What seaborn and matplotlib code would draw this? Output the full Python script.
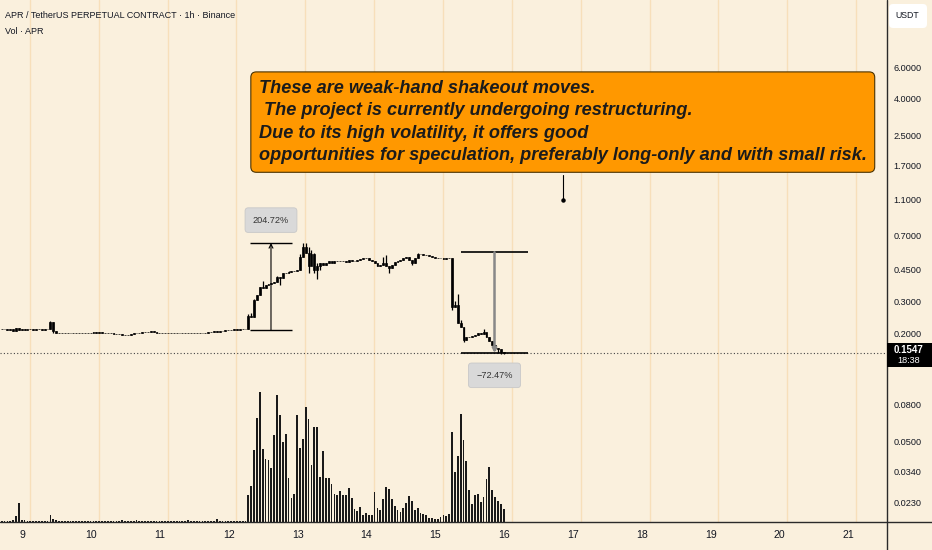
import numpy as np
import pandas as pd
import matplotlib
matplotlib.use("Agg")
import matplotlib.pyplot as plt
import seaborn as sns
from matplotlib.lines import Line2D
from matplotlib.patches import FancyBboxPatch, Rectangle
from matplotlib.transforms import IdentityTransform
from matplotlib.ticker import NullLocator

# ─────────────────────────────────────────────
# DATA (APR/USDT perp)
# ─────────────────────────────────────────────
first_candle_day = 8.70          # day-of-month of the first visible hourly candle

closes = [
    0.210, 0.210, 0.209, 0.210, 0.206, 0.213, 0.208, 0.210, 0.209, 0.210,
    0.210, 0.209, 0.210, 0.210, 0.209, 0.210, 0.210, 0.229, 0.206, 0.201,
    0.200, 0.199, 0.200, 0.200, 0.201, 0.200, 0.199, 0.200, 0.200, 0.201,
    0.201, 0.201, 0.202, 0.201, 0.202, 0.201, 0.201, 0.200, 0.199, 0.198,
    0.198, 0.197, 0.195, 0.196, 0.194, 0.197, 0.199, 0.200, 0.201, 0.202,
    0.202, 0.203, 0.204, 0.203, 0.201, 0.200, 0.199, 0.199, 0.199, 0.199,
    0.199, 0.200, 0.200, 0.201, 0.200, 0.200, 0.201, 0.200, 0.199, 0.199,
    0.200, 0.201, 0.202, 0.203, 0.204, 0.203, 0.205, 0.206, 0.207, 0.208,
    0.209, 0.210, 0.209, 0.210, 0.210, 0.210, 0.250, 0.245, 0.305, 0.325,
    0.360, 0.355, 0.370, 0.375, 0.380, 0.385, 0.410, 0.405, 0.430, 0.430,
    0.435, 0.440, 0.440, 0.450, 0.530, 0.600, 0.560, 0.470, 0.550, 0.450,
    0.470, 0.490, 0.480, 0.490, 0.500, 0.490, 0.500, 0.505, 0.500, 0.500,
    0.495, 0.510, 0.500, 0.505, 0.510, 0.515, 0.520, 0.520, 0.510, 0.500,
    0.490, 0.470, 0.475, 0.490, 0.470, 0.460, 0.480, 0.495, 0.505, 0.510,
    0.520, 0.530, 0.510, 0.490, 0.520, 0.550, 0.550, 0.545, 0.540, 0.535,
    0.530, 0.525, 0.520, 0.520, 0.515, 0.520, 0.525, 0.280, 0.285, 0.228,
    0.216, 0.183, 0.190, 0.190, 0.192, 0.195, 0.200, 0.198, 0.202, 0.190,
    0.180, 0.172, 0.165, 0.162, 0.157, 0.1547,
]

# wicks that stick out beyond the candle body (hour index -> price)
wick_highs = {17: 0.232, 86: 0.255, 87: 0.260, 88: 0.310, 91: 0.390, 96: 0.415,
              100: 0.440, 104: 0.550, 105: 0.635, 106: 0.632, 107: 0.600,
              108: 0.580, 109: 0.560, 110: 0.490, 126: 0.525, 133: 0.530,
              134: 0.545, 140: 0.525, 145: 0.560, 157: 0.525, 158: 0.300,
              159: 0.330, 160: 0.235, 168: 0.210}
wick_lows = {18: 0.200, 97: 0.370, 107: 0.430, 109: 0.430, 110: 0.400, 111: 0.450,
             135: 0.430, 143: 0.475, 157: 0.270, 161: 0.178, 172: 0.160,
             173: 0.155, 174: 0.153, 175: 0.152}

volumes = [
    1, 1, 1, 1, 2, 6, 19, 2, 2, 1.5,
    1, 1, 1, 1, 1, 1, 1, 7, 3, 2.5,
    1.5, 1, 1, 1, 1, 1, 1, 1, 1, 1,
    1, 1, 1, 1, 1, 1, 1, 1, 1, 1,
    1, 1, 2, 1, 1, 1, 1, 2, 1, 1,
    1, 1, 1, 1, 1, 1, 1, 1, 1, 1,
    1, 1, 1, 1, 1, 2, 1, 1, 1, 1,
    1, 1, 1, 1, 1, 3, 1, 1, 1, 1,
    1, 1, 1, 1, 1, 1, 27, 36, 72, 104,
    131, 73, 63, 62, 54, 87, 127, 107, 80, 88,
    44, 24, 28, 107, 74, 83, 115, 103, 57, 95,
    95, 45, 71, 44, 44, 38, 28, 27, 31, 27,
    27, 34, 24, 13, 11, 15, 7, 9, 7, 7,
    30, 14, 12, 23, 35, 33, 23, 16, 12, 10,
    14, 19, 26, 21, 12, 14, 9, 8, 7, 4,
    4, 3, 3, 5, 7, 6, 8, 90, 50, 66,
    108, 82, 61, 32, 18, 27, 28, 20, 25, 43,
    55, 32, 25, 21, 18, 13,
]

price_ticks = [6.0, 4.0, 2.5, 1.7, 1.1, 0.7, 0.45, 0.3, 0.2, 0.08, 0.05, 0.034, 0.023]
day_ticks = list(range(9, 22))

last_price = 0.1547
bar_countdown = "18:38"

# measuring tools drawn on the chart
up_days = (12.307, 12.917)
up_prices = (0.2075, 0.6323)
up_label = "204.72%"
down_days = (15.372, 16.345)
down_prices = (0.562, 0.1547)
down_label = "\u221272.47%"

note_day = 16.85
note_anchor_price = 1.1
note_tail_price = 1.51
note_center_price = 2.97
note_text = ("These are weak-hand shakeout moves.\n"
             " The project is currently undergoing restructuring.\n"
             "Due to its high volatility, it offers good\n"
             "opportunities for speculation, preferably long-only and with small risk.")

title_text = "APR / TetherUS PERPETUAL CONTRACT \u00b7 1h \u00b7 Binance"
vol_text = "Vol \u00b7 APR"

# ─────────────────────────────────────────────
# STYLE
# ─────────────────────────────────────────────
sns.set_theme(style="white")
plt.rcParams["font.family"] = ["Liberation Sans", "DejaVu Sans"]

BG = "#faf0dd"
INK = "#131722"
GRID = "#f7dfba"
W, H = 932, 550
AX_RIGHT = 886.5
AX_BOTTOM = 522

fig = plt.figure(figsize=(W / 100, H / 100), dpi=100, facecolor=BG)
ax = fig.add_axes([0, (H - AX_BOTTOM) / H, AX_RIGHT / W, AX_BOTTOM / H])
ax2 = ax.twinx()
ax.set_zorder(ax2.get_zorder() + 1)
ax.patch.set_visible(False)

hours = np.arange(len(closes))
times = first_candle_day + hours / 24
c = np.array(closes)
o = np.concatenate([[closes[0]], c[:-1]])
hi = np.maximum(o, c)
lo = np.minimum(o, c)
for k, v in wick_highs.items():
    hi[k] = v
for k, v in wick_lows.items():
    lo[k] = v

# ─────────────────────────────────────────────
# VOLUME (overlay, bottom of the pane)
# ─────────────────────────────────────────────
for d in day_ticks:
    ax2.axvline(d + 0.11, color=GRID, lw=1, zorder=0)

vol_df = pd.DataFrame({"time": times, "volume": volumes})
sns.histplot(data=vol_df, x="time", weights="volume", binwidth=1 / 24,
             binrange=(times[0] - 0.5 / 24, times[-1] + 0.5 / 24), shrink=0.62,
             color="#1a1a1a", alpha=1, linewidth=0, ax=ax2)
ax2.set_ylim(0, max(volumes) * 4.0)
ax2.set_yticks([])
ax2.set_ylabel("")
for s in ax2.spines.values():
    s.set_visible(False)

# ─────────────────────────────────────────────
# CANDLES
# ─────────────────────────────────────────────
ax.set_yscale("log")
ax.vlines(times, lo, hi, color="black", lw=0.9, zorder=3)
ax.bar(times, np.abs(c - o), bottom=np.minimum(o, c), width=0.65 / 24,
       color="black", edgecolor="black", linewidth=0.5, zorder=3)

ax.axhline(last_price, color="#444444", lw=0.8, ls=(0, (1, 2)), zorder=2)

ax.set_xlim(8.676, 21.552)
ax.set_ylim(0.01783, 14.16)

# up measure
ax.hlines(up_prices, *up_days, color="black", lw=1, zorder=4)
mid = sum(up_days) / 2
ax.annotate("", xy=(mid, up_prices[1]), xytext=(mid, up_prices[0]),
            arrowprops=dict(arrowstyle="->", color="black", lw=0.8, shrinkA=0, shrinkB=0,
                            mutation_scale=7), zorder=4)
ax.annotate(up_label, xy=(mid, up_prices[1]), xytext=(0, 16.5), textcoords="offset points",
            ha="center", va="center", fontsize=6.6, color="#333333", zorder=6,
            bbox=dict(boxstyle="round,pad=0.85,rounding_size=0.35", fc="#d9d9d9", ec="#c8c8c8", lw=0.6))

# down measure
ax.hlines(down_prices, *down_days, color="black", lw=1.2, zorder=4)
mid = sum(down_days) / 2
ax.annotate("", xy=(mid, down_prices[1]), xytext=(mid, down_prices[0]),
            arrowprops=dict(arrowstyle="->", color="#888888", lw=1.8, shrinkA=0, shrinkB=0,
                            mutation_scale=6), zorder=4)
ax.annotate(down_label, xy=(mid, down_prices[1]), xytext=(0, -16), textcoords="offset points",
            ha="center", va="center", fontsize=6.6, color="#333333", zorder=6,
            bbox=dict(boxstyle="round,pad=0.85,rounding_size=0.35", fc="#d9d9d9", ec="#c8c8c8", lw=0.6))

# callout
ax.plot([note_day, note_day], [note_anchor_price, note_tail_price], color="black", lw=0.8, zorder=4)
ax.plot([note_day], [note_anchor_price], "o", color="black", ms=2.2, zorder=4)
ax.text(note_day, note_center_price, note_text, ha="center", va="center", multialignment="left",
        fontsize=13.1, fontweight="bold", style="italic", color="#1b1b1b", linespacing=1.42, zorder=7,
        bbox=dict(boxstyle="round,pad=0.44,rounding_size=0.3", fc="#ff9800", ec="#4a3200", lw=0.8))

# ─────────────────────────────────────────────
# AXES
# ─────────────────────────────────────────────
for s in ax.spines.values():
    s.set_visible(False)
ax.yaxis.tick_right()
ax.set_yticks(price_ticks)
ax.set_yticklabels([f"{t:.4f}" for t in price_ticks])
ax.yaxis.set_minor_locator(NullLocator())
ax.set_xticks(day_ticks)
ax.set_xticklabels([str(d) for d in day_ticks])
ax.tick_params(axis="y", length=0, pad=5, labelsize=6.6, labelcolor=INK)
ax.tick_params(axis="x", length=0, pad=6, labelsize=7.6, labelcolor=INK)
ax.grid(False)
ax2.grid(False)

fig.add_artist(Line2D([AX_RIGHT / W] * 2, [0, 1], transform=fig.transFigure, color="#2a2a2a", lw=1))
fig.add_artist(Line2D([0, 1], [(H - AX_BOTTOM) / H] * 2, transform=fig.transFigure, color="#2a2a2a", lw=1))

fig.text(5 / W, 1 - 16 / H, title_text, ha="left", va="center", fontsize=6.5, color=INK)
fig.text(5 / W, 1 - 32 / H, vol_text, ha="left", va="center", fontsize=6.5, color=INK)

# currency tag
fig.add_artist(FancyBboxPatch((889, H - 28), 38, 24, boxstyle="round,pad=0,rounding_size=4",
                              transform=IdentityTransform(), fc="white", ec="none"))
fig.text(907 / W, 1 - 16 / H, "USDT", ha="center", va="center", fontsize=6.3, color=INK)

# last price tag, tied to the price scale
fig.canvas.draw()
y_disp = ax.transData.transform((20, last_price))[1]
fig.add_artist(Rectangle((AX_RIGHT + 0.5, y_disp - 14), W - AX_RIGHT, 24,
                         transform=IdentityTransform(), fc="black", ec="none", zorder=20))
fig.text(909 / W, (y_disp + 3) / H, f"{last_price:.4f}", ha="center", va="center",
         fontsize=7.0, fontweight="bold", color="white", zorder=21)
fig.text(909 / W, (y_disp - 7.5) / H, bar_countdown, ha="center", va="center",
         fontsize=6.6, color="white", zorder=21)

fig.savefig("out.png", dpi=100, facecolor=BG)
